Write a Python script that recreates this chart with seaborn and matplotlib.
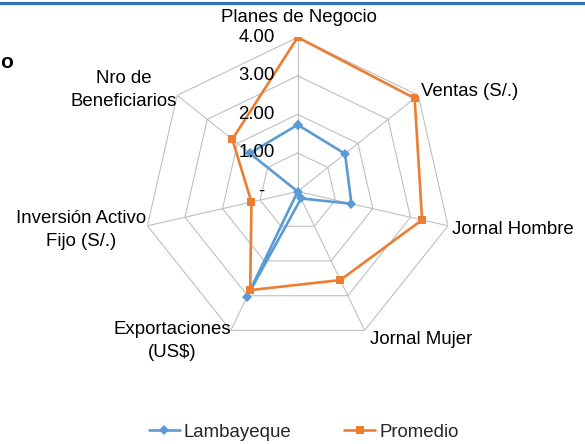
import numpy as np
import matplotlib
matplotlib.use("Agg")
import matplotlib.pyplot as plt
import matplotlib.transforms as mtransforms
from matplotlib.lines import Line2D
import seaborn as sns

# ---- data ----
categories = ["Planes de Negocio", "Ventas (S/.)", "Jornal Hombre", "Jornal Mujer",
              "Exportaciones\n(US$)", "Inversión Activo\nFijo (S/.)", "Nro de\nBeneficiarios"]
lambayeque = [1.73, 1.57, 1.43, 0.20, 3.03, 0.00, 1.59]
promedio = [4.00, 3.88, 3.31, 2.55, 2.84, 1.23, 2.17]
tick_values = [0, 1, 2, 3, 4]
tick_labels = ["-", "1.00", "2.00", "3.00", "4.00"]
series_names = ["Lambayeque", "Promedio"]

# ---- style ----
sns.set_theme(style="white")
plt.rcParams['font.family'] = ['Liberation Sans', 'DejaVu Sans']

W, H = 585, 444
DPI = 100
fig = plt.figure(figsize=(W / DPI, H / DPI), dpi=DPI)

cx, cy, R = 297.7, 191.5, 154.2
ax = fig.add_axes([(cx - R) / W, (H - cy - R) / H, 2 * R / W, 2 * R / H], projection="polar")
ax.set_theta_offset(np.pi / 2)
ax.set_theta_direction(-1)
ax.set_ylim(0, 4)
ax.grid(False)
ax.spines["polar"].set_visible(False)
ax.set_xticks([])
ax.set_yticks([])
ax.patch.set_alpha(0)

n = len(categories)
theta = np.arange(n) * 2 * np.pi / n
theta_c = np.append(theta, theta[0] + 2 * np.pi)

grid_color = "#C0C0C0"
for r in tick_values[1:]:
    ax.plot(theta_c, [r] * (n + 1), color=grid_color, lw=0.8, zorder=1)
for t in theta:
    ax.plot([t, t], [0, tick_values[-1]], color=grid_color, lw=0.8, zorder=1)

blue = "#5B9BD5"
orange = "#ED7D31"
sns.lineplot(x=theta_c, y=np.append(lambayeque, lambayeque[0]), ax=ax, sort=False,
             estimator=None, color=blue, lw=1.9, marker="D", markersize=5,
             markeredgewidth=0, zorder=3)
sns.lineplot(x=theta_c, y=np.append(promedio, promedio[0]), ax=ax, sort=False,
             estimator=None, color=orange, lw=1.9, marker="s", markersize=6,
             markeredgewidth=0, zorder=4)
ax.set_xlabel("")
ax.set_ylabel("")
ax.set_xticks([])
ax.set_yticks([])
ax.set_ylim(0, 4)

FS = 13.4
# radial tick labels
off = mtransforms.offset_copy(ax.transData, fig=fig, x=-23, y=0, units="dots")
for v, lab in zip(tick_values, tick_labels):
    dx = -10 if lab == "-" else 0
    tr = mtransforms.offset_copy(off, fig=fig, x=dx, y=0, units="dots")
    ax.text(0, v, lab, ha="right", va="center", fontsize=FS, color="#000000",
            transform=tr, zorder=5)

# category labels (pixel anchors)
label_pos = [(299, 17, "center"), (421, 91, "left"), (452, 229, "left"),
             (370, 340, "left"), (231, 341, "right"), (146, 230, "right"),
             (177, 90, "right")]
for lab, (px, py, ha) in zip(categories, label_pos):
    fig.text(px / W, 1 - py / H, lab, ha=ha, va="center", fontsize=FS,
             multialignment="center", linespacing=1.4, color="#000000")

# top rule and title fragment
fig.add_artist(Line2D([0, 1], [1 - 3.5 / H] * 2, color="#2E75B6", lw=2.3))
fig.text(0.5 / W, 1 - 62 / H, "o", ha="left", va="center", fontsize=15,
         fontweight="bold", color="#000000")

handles = [Line2D([], [], color=blue, lw=1.9, marker="D", markersize=5, markeredgewidth=0),
           Line2D([], [], color=orange, lw=1.9, marker="s", markersize=6, markeredgewidth=0)]
fig.legend(handles, series_names, loc="center", bbox_to_anchor=(0.519, 1 - 432 / H),
           ncol=2, frameon=False, fontsize=FS, handlelength=1.7, handletextpad=0.2,
           columnspacing=2.8, borderpad=0)

fig.savefig("out.png", dpi=DPI)
